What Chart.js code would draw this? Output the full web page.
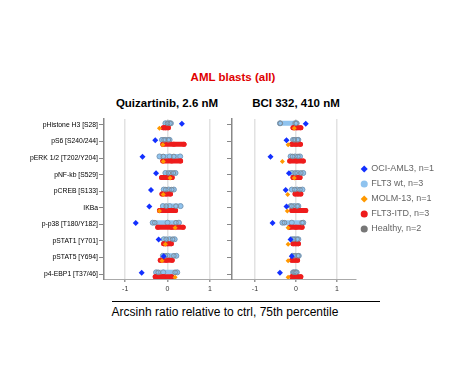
<!DOCTYPE html>
<html><head><meta charset="utf-8">
<script src="https://cdn.jsdelivr.net/npm/chart.js@4/dist/chart.umd.min.js"></script>
<style>
body{margin:0;background:#fff;width:463px;height:381px;position:relative;overflow:hidden;font-family:"Liberation Sans",Arial,sans-serif;}
.t{position:absolute;white-space:nowrap;transform:translateX(-50%);line-height:14px;}
.box{position:absolute;}
</style></head><body>
<div class="t" style="left:233px;top:70px;color:#e00000;font-weight:bold;font-size:11.5px;">AML blasts (all)</div>
<div class="t" style="left:167px;top:96px;font-weight:bold;font-size:11.5px;">Quizartinib, 2.6 nM</div>
<div class="t" style="left:296px;top:96px;font-weight:bold;font-size:11.5px;">BCI 332, 410 nM</div>
<div style="position:absolute;left:112px;top:301px;width:268px;height:1px;background:#000"></div>
<div class="t" style="left:225px;top:305px;font-size:12px;">Arcsinh ratio relative to ctrl, 75th percentile</div>
<div class="box" style="left:0;top:113px;"><canvas id="c1" width="236" height="186"></canvas></div>
<div class="box" style="left:226px;top:100px;"><canvas id="c2" width="218" height="199"></canvas></div>
<script>
const categories = ['pHistone H3 [S28]','pS6 [S240/244]','pERK 1/2 [T202/Y204]','pNF-kb [S529]','pCREB [S133]','IKBa','p-p38 [T180/Y182]','pSTAT1 [Y701]','pSTAT5 [Y694]','p4-EBP1 [T37/46]'];
const xTicks = [-1, 0, 1];
const seriesNames = ['OCI-AML3, n=1','FLT3 wt, n=3','MOLM-13, n=1','FLT3-ITD, n=3','Healthy, n=2'];

// Quizartinib, 2.6 nM
const quizOCI  = [0.34,-0.29,-0.59,-0.27,-0.39,-0.43,-0.75,-0.21,-0.09,-0.61];
const quizMOLM = [-0.19,-0.11,-0.10,0.06,-0.10,-0.19,0.18,-0.05,-0.13,0.18];
const quizWt = [[-0.05,0.03,0.08],[-0.13,-0.04,0.05],[-0.19,0.05,0.30],[-0.05,0.08,0.19],[-0.09,0.03,0.15],[-0.11,0.05,0.31],[-0.35,0.00,0.27],[-0.09,0.05,0.17],[-0.11,0.00,0.21],[-0.27,-0.10,0.23]];
const quizITD = [[-0.10,-0.05,0.02],[-0.11,0.15,0.39],[-0.11,0.10,0.31],[-0.14,0.00,0.11],[-0.13,-0.03,0.07],[-0.19,0.00,0.19],[-0.23,0.10,0.37],[-0.09,0.00,0.09],[-0.17,-0.03,0.11],[-0.29,-0.10,0.10]];
const quizHealthy = [[0.00,0.06],[-0.08,0.02],[-0.10,0.15],[0.02,0.14],[-0.04,0.10],[-0.03,0.20],[-0.30,0.20],[-0.03,0.12],[-0.05,0.15],[-0.22,0.18]];

// BCI 332, 410 nM
const bciOCI  = [0.24,-0.23,-0.62,-0.17,-0.25,-0.23,-0.57,-0.13,-0.10,-0.39];
const bciMOLM = [-0.04,-0.19,-0.33,-0.04,-0.20,-0.21,-0.19,-0.19,-0.19,-0.19];
const bciWt = [[-0.39,-0.02,0.02],[-0.07,0.00,0.06],[-0.13,-0.02,0.10],[-0.10,0.04,0.18],[-0.10,0.03,0.16],[-0.13,-0.04,0.06],[-0.33,-0.10,0.18],[-0.10,-0.02,0.06],[-0.08,0.00,0.07],[-0.07,-0.02,0.02]];
const bciITD = [[-0.07,0.02,0.12],[-0.10,0.00,0.11],[-0.15,0.02,0.18],[-0.07,0.02,0.10],[-0.02,0.05,0.12],[-0.10,0.08,0.24],[-0.15,0.00,0.15],[-0.07,0.00,0.06],[-0.10,-0.03,0.04],[-0.10,0.02,0.12]];
const bciHealthy = [[-0.38,0.00],[-0.04,0.04],[-0.08,0.05],[-0.02,0.12],[-0.03,0.10],[-0.10,0.03],[-0.28,0.15],[-0.06,0.03],[-0.04,0.05],[-0.05,0.00]];

const C = {oci:'#1330ff', wt:'#8fc3ef', molm:'#ff9900', itd:'#ee1c1c', healthy:'#777777'};
const OFF = {oci:-0.08, wt:-0.1, molm:0.2, itd:0.17};
const FONT = '"Liberation Sans", Arial, sans-serif';

function pts(arr, off){ return arr.flatMap((v,i)=> (Array.isArray(v)?v:[v]).map(x=>({x:x,y:i+off}))); }
function rng(arr, off){ return arr.flatMap((v,i)=>[{x:Math.min(...v),y:i+off},{x:Math.max(...v),y:i+off},{x:null,y:null}]); }

function datasets(oci, molm, wt, itd, healthy){
  return [
    {label:seriesNames[0], data:pts(oci,OFF.oci), pointStyle:'rectRot', pointRadius:3, backgroundColor:C.oci, borderColor:C.oci, borderWidth:0, order:0, leg:0},
    {label:seriesNames[2], data:pts(molm,OFF.molm), pointStyle:'rectRot', pointRadius:2.5, backgroundColor:C.molm, borderColor:C.molm, borderWidth:0, order:1, leg:2},
    {label:seriesNames[4], data:pts(healthy,OFF.wt), pointStyle:'circle', pointRadius:2.3, backgroundColor:'rgba(0,0,0,0)', borderColor:'#7d8c99', borderWidth:1, order:2, leg:4},
    {label:seriesNames[3], data:pts(itd,OFF.itd), pointStyle:'circle', pointRadius:2.5, backgroundColor:C.itd, borderColor:C.itd, borderWidth:0, order:3, leg:3},
    {label:'', data:rng(itd,OFF.itd), showLine:true, pointRadius:0, borderColor:C.itd, borderWidth:5, borderCapStyle:'round', spanGaps:false, order:4},
    {label:seriesNames[1], data:pts(wt,OFF.wt), pointStyle:'circle', pointRadius:2.5, backgroundColor:C.wt, borderColor:'#7d9cb8', borderWidth:1, order:5, leg:1},
    {label:'', data:rng(wt,OFF.wt), showLine:true, pointRadius:0, borderColor:C.wt, borderWidth:5, borderCapStyle:'round', spanGaps:false, order:6}
  ];
}

function makeChart(id, ds, isLeft){
  return new Chart(document.getElementById(id), {
    type:'scatter',
    data:{datasets:ds},
    options:{
      responsive:false, devicePixelRatio:1, animation:false,
      layout:{padding:isLeft?{top:6,right:0,left:0,bottom:0}:{top:19,right:0,left:0,bottom:0}},
      plugins:{
        tooltip:{enabled:false},
        legend:isLeft?{display:false}:{
          display:true, position:'right', align:'center', maxWidth:105, fullSize:false,
          labels:{
            usePointStyle:true, boxWidth:5, boxHeight:5, padding:6,
            color:'#666', font:{family:FONT, size:9},
            generateLabels:(chart)=>chart.data.datasets.map((d,i)=>({d,i})).filter(o=>o.d.leg!==undefined)
              .sort((a,b)=>a.d.leg-b.d.leg)
              .map(o=>({text:o.d.label, fillStyle:o.d.leg===4?C.healthy:o.d.backgroundColor, strokeStyle:o.d.leg===4?C.healthy:o.d.backgroundColor,
                lineWidth:0, pointStyle:o.d.pointStyle, hidden:false, datasetIndex:o.i, fontColor:'#666'}))
          },
          onClick:()=>{}
        }
      },
      scales:{
        x:{type:'linear', min:isLeft?-1.5:-1.56, max:isLeft?1.5:1.46,
          afterBuildTicks:(s)=>{s.ticks = xTicks.map(v=>({value:v}));},
          afterFit:(s)=>{s.height=20;},
          ticks:{color:'#333', font:{family:FONT,size:7}, padding:3, maxRotation:0},
          grid:{color:'#e2e2e2', lineWidth:1.5, drawTicks:true, tickLength:3, tickColor:'#999'},
          border:{display:true, color:'#aaa', width:1}
        },
        y:{type:'linear', reverse:true, min:-0.36, max:9.3,
          afterBuildTicks:(s)=>{s.ticks = categories.map((c,i)=>({value:i}));},
          afterFit:(s)=>{s.width = isLeft?104:6;},
          ticks:{color:'#000', font:{family:FONT,size:6.8}, padding:1, autoSkip:false,
            callback:(v)=> isLeft ? categories[v] : ''},
          grid:{drawOnChartArea:false, drawTicks:true, tickLength:5, tickColor:'#888'},
          border:{display:true, color:'#888', width:1.5}
        }
      }
    }
  });
}

makeChart('c1', datasets(quizOCI, quizMOLM, quizWt, quizITD, quizHealthy), true);
makeChart('c2', datasets(bciOCI, bciMOLM, bciWt, bciITD, bciHealthy), false);
</script>
</body></html>
